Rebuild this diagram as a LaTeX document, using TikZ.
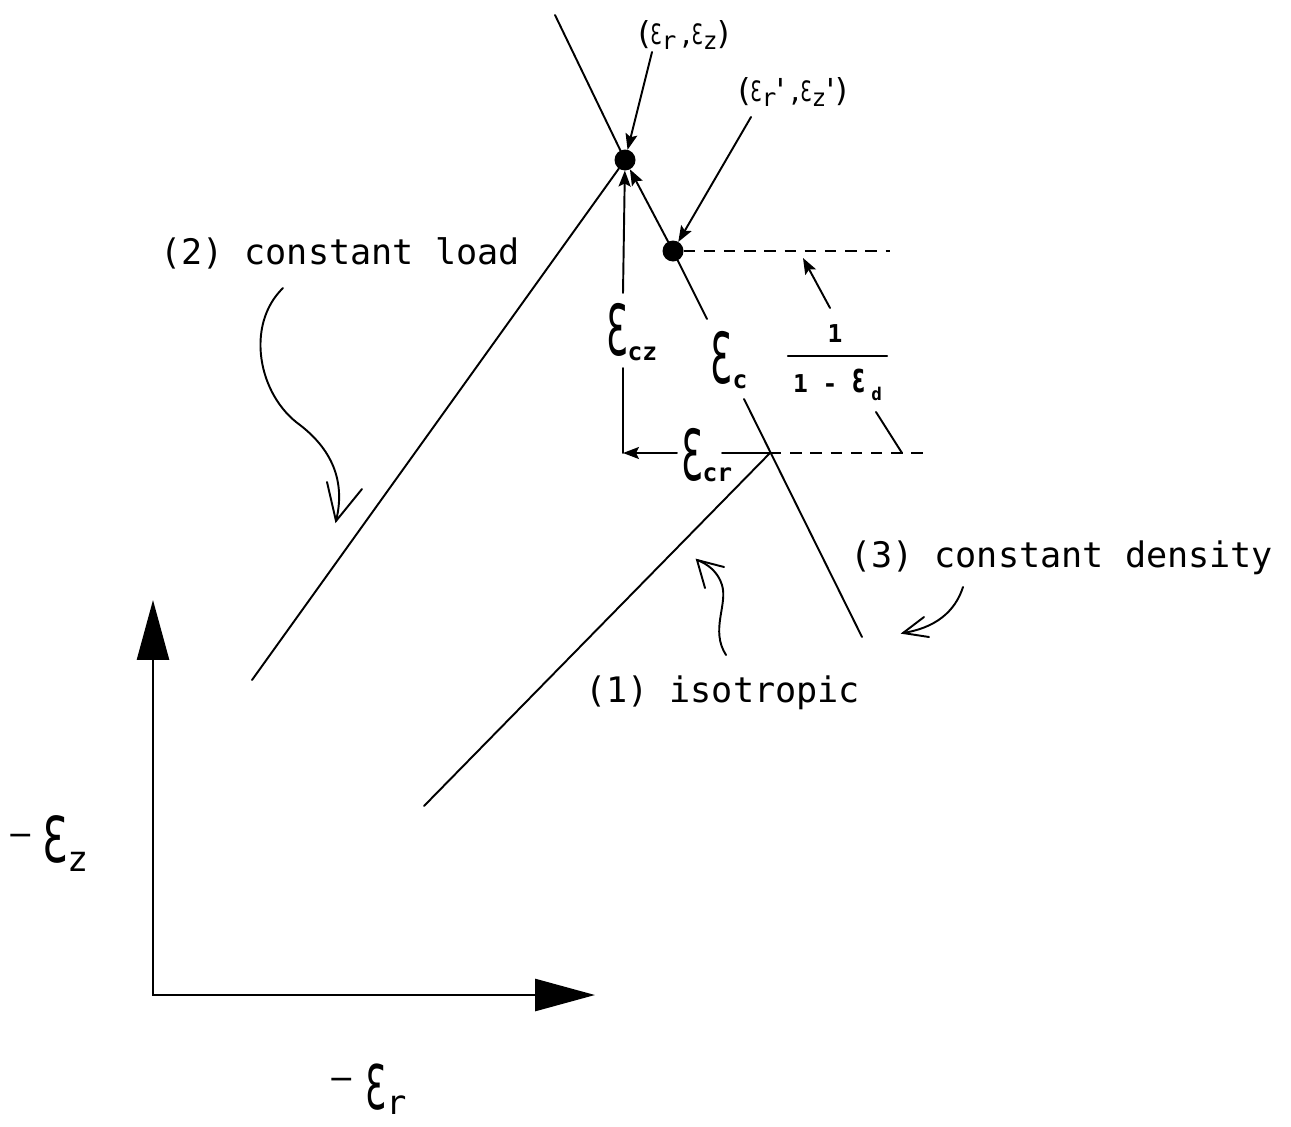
\documentclass[tikz,border=0pt]{standalone}
\usepackage{fontspec}
\usetikzlibrary{arrows.meta}
\newfontfamily\pf{DejaVu Sans Mono}
\newfontfamily\epsf{DejaVu Sans}
% open-E epsilon of the plotter font: #1 horizontal scale, #2 font size
\newcommand\Eps[2][0.5]{\scalebox{#1}[1]{\fontsize{#2}{#2}\selectfont\epsf Ɛ}}
\newcommand\lo[3]{\raisebox{-#1}{\fontsize{#2}{#2}\selectfont #3}}
\begin{document}
\begin{tikzpicture}[x=0.02cm,y=-0.02cm,line width=1.1pt,line cap=round,
  every node/.style={inner sep=0pt,outer sep=0pt},
  axis/.style={line width=1.6pt,{Triangle[length=1.2cm,width=0.64cm]}-{Triangle[length=1.2cm,width=0.64cm]}},
  tip/.style={-{Stealth[length=0.32cm,width=0.24cm,inset=0.06cm]}},
  dsh/.style={dash pattern=on 6.5pt off 5pt,line cap=butt},
  dot/.style={circle,fill=black,minimum size=0.42cm},
  lbl/.style={anchor=base west,font=\pf\fontsize{20}{24}\selectfont},
  sym/.style={anchor=base west}]
\useasboundingbox (0,0) rectangle (1291,1126);

% axes
\coordinate (O) at (153,995);
\coordinate (Zt) at (153,600);
\coordinate (Rt) at (595,995);
\draw[axis] (Zt) -- (O) -- (Rt);

% points
\node[dot] (P) at (625,160) {};
\node[dot] (Q) at (673,251) {};

% line (2) constant load
\coordinate (L2) at (252,680);
\draw (L2) -- (P);
% line (1) isotropic
\coordinate (L1) at (424,806);
\coordinate (X) at (770,453);
\draw (L1) -- (X);
% line (3) constant density
\coordinate (T3) at (555,15);
\coordinate (M3a) at (707,319);
\coordinate (M3b) at (744,399);
\coordinate (E3) at (862,637);
\draw (T3) -- (P);
\draw[tip] (Q) -- (P);
\draw (Q) -- (M3a);
\draw (M3b) -- (E3);

% eps_cz / eps_cr construction
\coordinate (C) at (623,453);
\coordinate (Vb) at (623,368);
\coordinate (Vt) at (623,293);
\draw (C) -- (Vb);
\draw[tip] (Vt) -- (P);
\coordinate (Hr) at (677,453);
\draw[tip] (Hr) -- (C);
\coordinate (Hs) at (722,453);
\draw (Hs) -- (X);
\coordinate (Dr) at (930,453);
\draw[dsh] (X) -- (Dr);
\coordinate (Ur) at (890,251);
\draw[dsh] (Q) -- (Ur);

% label arrows
\coordinate (a1s) at (652,52);
\draw[tip] (a1s) -- (P);
\coordinate (a2s) at (751,117);
\draw[tip] (a2s) -- (Q);
\coordinate (f1s) at (830,308);
\coordinate (f1e) at (803,258);
\draw[tip] (f1s) -- (f1e);
\coordinate (f2s) at (876,412);
\coordinate (f2e) at (902,453);
\draw (f2s) -- (f2e);

% hand-drawn curved arrows
\coordinate (cl0) at (283,288);
\coordinate (cl1) at (300,425);
\coordinate (cl2) at (336,521);
\coordinate (wl1) at (327,482);
\coordinate (wl2) at (362,489);
\draw (cl0) .. controls (245,325) and (258,395) .. (cl1) .. controls (335,452) and (345,485) .. (cl2);
\draw (wl1) -- (cl2) -- (wl2);

\coordinate (ci0) at (726,655);
\coordinate (ci1) at (722,585);
\coordinate (ci2) at (697,560);
\coordinate (wi1) at (705,588);
\coordinate (wi2) at (724,567);
\draw (ci0) .. controls (710,630) and (728,605) .. (ci1) .. controls (718,572) and (708,564) .. (ci2);
\draw (wi1) -- (ci2) -- (wi2);

\coordinate (cd0) at (963,587);
\coordinate (cd1) at (903,633);
\coordinate (wd1) at (929,637);
\coordinate (wd2) at (924,617);
\draw (cd0) .. controls (955,612) and (935,628) .. (cd1);
\draw (wd1) -- (cd1) -- (wd2);

% text labels
\node[lbl] (t2) at (160,264) {(2) constant load};
\node[lbl] (t3) at (850,567) {(3) constant density};
\node[lbl] (t1) at (585,702) {(1) isotropic};

\node[sym] (lP) at (638,44) {\epsf\fontsize{18}{18}\selectfont (\Eps[0.65]{16}\lo{0.1cm}{14}{\pf r}\,,\Eps[0.65]{16}\lo{0.1cm}{14}{\pf z})};
\node[sym] (lQ) at (738,101) {\epsf\fontsize{18}{18}\selectfont (\Eps[0.65]{16}\lo{0.1cm}{14}{\pf r}'\,,\Eps[0.65]{16}\lo{0.1cm}{14}{\pf z}')};

\node[sym] (ecz) at (606,355) {\Eps{40}\lo{0.1cm}{14}{\pf\bfseries cz}};
\node[sym] (ec) at (710,383) {\Eps{40}\hspace{0.02cm}\lo{0.1cm}{14}{\pf\bfseries c}};
\node[sym] (ecr) at (681,480) {\Eps{40}\lo{0.03cm}{14}{\pf\bfseries cr}};

\node[anchor=base] (num) at (835,342) {\pf\bfseries\fontsize{14}{14}\selectfont 1};
\coordinate (bl) at (788,356);
\coordinate (br) at (887,356);
\draw[line width=1.3pt] (bl) -- (br);
\node[sym] (den) at (793,392) {\pf\bfseries\fontsize{14}{14}\selectfont 1 - \Eps[0.6]{18}\hspace{0.12cm}\lo{0.16cm}{10}{d}};

\node[sym] (ez) at (8,862) {\epsf\fontsize{18}{18}\selectfont\raisebox{0.34cm}{−}\hspace{0.16cm}\Eps[0.65]{36}\lo{0.18cm}{20}{\pf z}};
\node[sym] (er) at (328,1109) {\epsf\fontsize{18}{18}\selectfont\raisebox{0.4cm}{−}\hspace{0.22cm}\Eps[0.55]{35}\lo{0.1cm}{19}{\pf r}};
\end{tikzpicture}
\end{document}
